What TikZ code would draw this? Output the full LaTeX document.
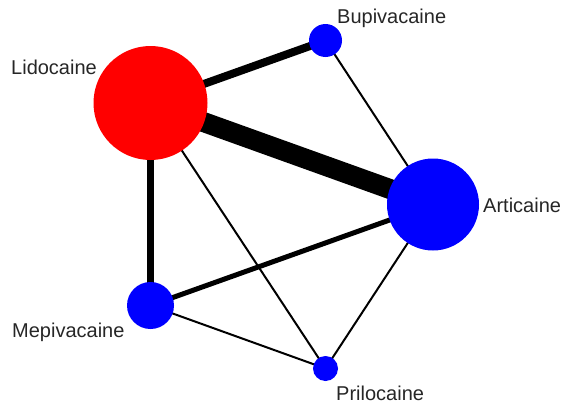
\documentclass[tikz,border=0pt]{standalone}
\usepackage{fontspec}
\setmainfont{Liberation Sans}
\usetikzlibrary{backgrounds}
\tikzset{
	drug/.style 2 args={circle,inner sep=0pt,minimum size=#1,fill=#2},
	lbl/.style={anchor=base west,inner sep=0pt,text=black!85,font=\fontsize{20}{24}\selectfont},
	edge/.style={line width=#1,draw=black}
}
\begin{document}
\begin{tikzpicture}[x=1pt,y=-1pt]
	\useasboundingbox (0,0) rectangle (563,407);
	\node [drug={114pt}{red}] (lido) at (150.5,103) {};
	\node [drug={33pt}{blue}] (bupi) at (325.5,40.5) {};
	\node [drug={92pt}{blue}] (arti) at (433,204.5) {};
	\node [drug={47pt}{blue}] (mepi) at (150.5,305.5) {};
	\node [drug={25pt}{blue}] (prilo) at (325.5,368.5) {};

	\node [lbl] at (11,74) {Lidocaine};
	\node [lbl] at (337,23) {Bupivacaine};
	\node [lbl] at (483,212) {Articaine};
	\node [lbl] at (12,337) {Mepivacaine};
	\node [lbl] at (336,400) {Prilocaine};

	\begin{pgfonlayer}{background}
		\draw[edge=20pt] (lido.center) -- (arti.center);
		\draw[edge=8pt] (lido.center) -- (bupi.center);
		\draw[edge=7pt] (lido.center) -- (mepi.center);
		\draw[edge=5pt] (arti.center) -- (mepi.center);
		\draw[edge=2pt] (lido.center) -- (prilo.center);
		\draw[edge=2pt] (bupi.center) -- (arti.center);
		\draw[edge=2pt] (arti.center) -- (prilo.center);
		\draw[edge=2pt] (mepi.center) -- (prilo.center);
	\end{pgfonlayer}
\end{tikzpicture}
\end{document}
